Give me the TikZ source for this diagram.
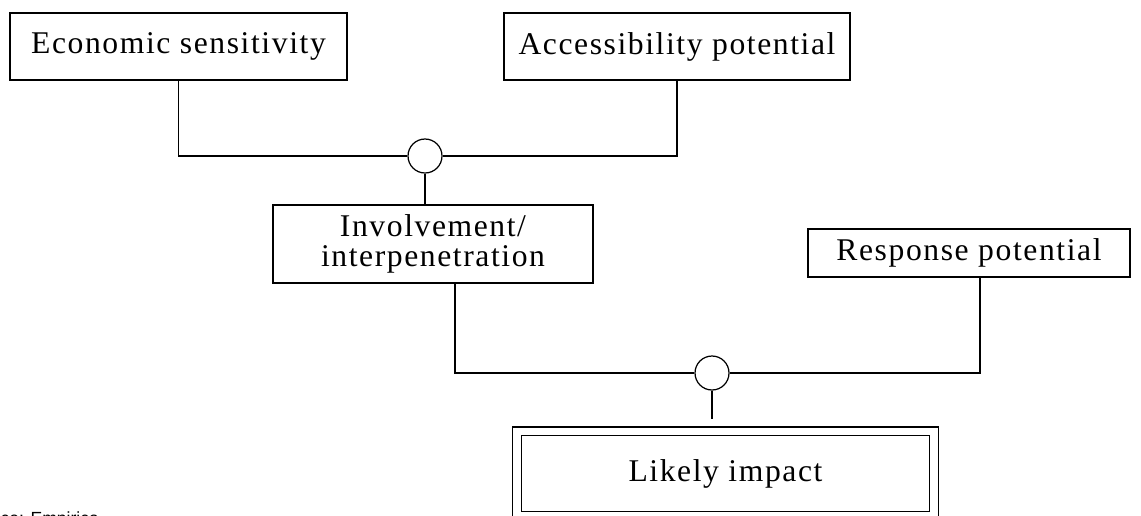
\documentclass[tikz,border=0pt]{standalone}
\usepackage{fontspec}
\setmainfont{Liberation Serif}
\setsansfont{Liberation Sans}
\usetikzlibrary{positioning}
\tikzset{
  every picture/.style={line width=0.7pt, x=0.02cm, y=-0.02cm},
  factor/.style={draw, rectangle, inner sep=0pt, align=center,
    font=\fontsize{18}{17.5}\selectfont\addfontfeature{LetterSpace=5}},
  junction/.style={draw, circle, minimum size=0.68cm, inner sep=0pt, fill=white},
  link/.style={line width=0.7pt},
  source/.style={font=\sffamily\fontsize{10}{12}\selectfont, inner sep=0pt, anchor=north west},
}
\begin{document}
\begin{tikzpicture}
  \useasboundingbox (0,0) rectangle (1141,515);
  % top level factors
  \node[factor, minimum width=6.74cm, minimum height=1.34cm] (econ) at (178.5,46.5) {Economic sensitivity};
  \node[factor, minimum width=6.92cm, minimum height=1.34cm] (access) at (677,46.5) {Accessibility potential};
  \node[junction] (j1) at (425,156) {};
  \draw[link] (econ.south) |- (j1.west);
  \draw[link] (access.south) |- (j1.east);
  % second level
  \node[factor, minimum width=6.4cm, minimum height=1.56cm] (involve) at (433,244) {Involvement/\\interpenetration};
  \node[factor, minimum width=6.44cm, minimum height=0.96cm] (response) at (969,253) {Response potential};
  \draw[link] (j1.south) -- (j1.south |- involve.north);
  \node[junction] (j2) at (712,373) {};
  \draw[link] ([xshift=0.44cm]involve.south) |- (j2.west);
  \draw[link] ([xshift=0.22cm]response.south) |- (j2.east);
  % outcome (double frame, stem stops short of it)
  \node[factor, double, double distance=0.15cm, minimum width=8.34cm, minimum height=1.69cm] (impact) at (725.5,473.5) {Likely impact};
  \coordinate (stem) at (712,419);
  \draw[link] (j2.south) -- (stem);
  \node[source] (src) at (0,511) {ce: Empirica};
\end{tikzpicture}
\end{document}
